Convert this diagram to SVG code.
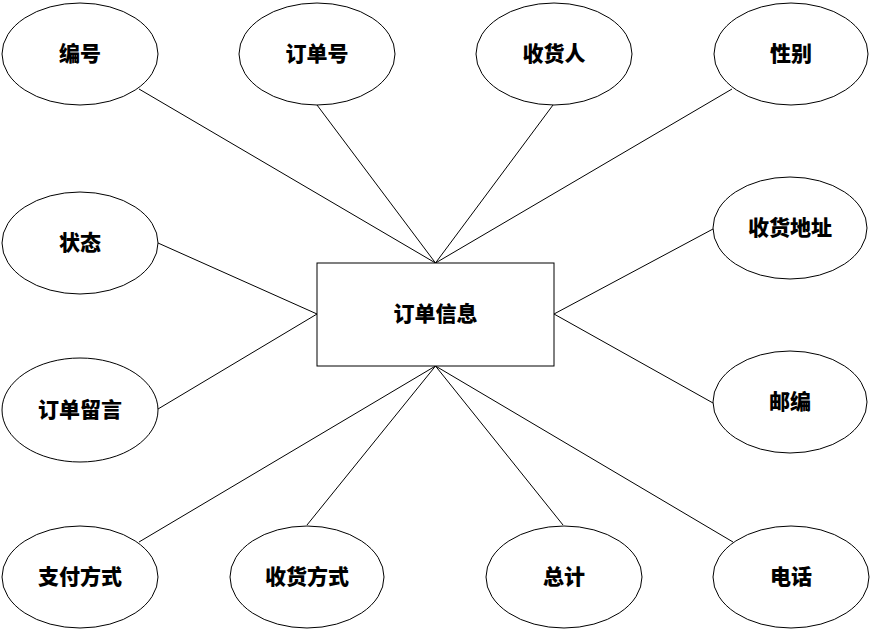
<svg xmlns="http://www.w3.org/2000/svg" width="870" height="630" viewBox="0 0 870 630">
<style>
.n ellipse, .n rect { fill: #fff; stroke: #000; stroke-width: 1; }
.n text { font-family: "Noto Sans CJK SC", "Noto Sans", sans-serif; font-size: 21px; font-weight: 900; fill: #000; text-anchor: middle; dominant-baseline: central; }
#edges line { stroke: #000; stroke-width: 1; }
</style>
<rect width="870" height="630" fill="#fff"/>
<g id="edges">
<line x1="139" y1="89" x2="435.5" y2="263"/>
<line x1="317" y1="105" x2="435.5" y2="263"/>
<line x1="553" y1="105" x2="435.5" y2="263"/>
<line x1="732" y1="89" x2="435.5" y2="263"/>
<line x1="158" y1="243" x2="317" y2="314"/>
<line x1="158" y1="409" x2="317" y2="314"/>
<line x1="713" y1="229" x2="554" y2="314"/>
<line x1="713" y1="403" x2="554" y2="314"/>
<line x1="139" y1="542" x2="435.5" y2="366"/>
<line x1="307" y1="525" x2="435.5" y2="366"/>
<line x1="563" y1="525" x2="435.5" y2="366"/>
<line x1="733" y1="542" x2="435.5" y2="366"/>
</g>
<g id="center" class="n"><rect x="317" y="263" width="237" height="103"/><text x="435.5" y="312">订单信息</text></g>
<g id="bianhao" class="n"><ellipse cx="80" cy="54" rx="78" ry="51"/><text x="80" y="52">编号</text></g>
<g id="dingdanhao" class="n"><ellipse cx="317" cy="54" rx="78" ry="51"/><text x="317" y="52">订单号</text></g>
<g id="shouhuoren" class="n"><ellipse cx="554" cy="54" rx="78" ry="51"/><text x="554" y="52">收货人</text></g>
<g id="xingbie" class="n"><ellipse cx="791" cy="54" rx="77" ry="51"/><text x="791" y="52">性别</text></g>
<g id="zhuangtai" class="n"><ellipse cx="80" cy="243" rx="78" ry="51"/><text x="80" y="241">状态</text></g>
<g id="shouhuodizhi" class="n"><ellipse cx="790" cy="228" rx="77" ry="51"/><text x="790" y="226">收货地址</text></g>
<g id="dingdanliuyan" class="n"><ellipse cx="80" cy="410" rx="78" ry="52"/><text x="80" y="408">订单留言</text></g>
<g id="youbian" class="n"><ellipse cx="790" cy="402" rx="77" ry="51"/><text x="790" y="400">邮编</text></g>
<g id="zhifufangshi" class="n"><ellipse cx="80" cy="577" rx="78" ry="51"/><text x="80" y="575">支付方式</text></g>
<g id="shouhuofangshi" class="n"><ellipse cx="307" cy="577" rx="77" ry="51"/><text x="307" y="575">收货方式</text></g>
<g id="zongji" class="n"><ellipse cx="564" cy="577" rx="78" ry="51"/><text x="564" y="575">总计</text></g>
<g id="dianhua" class="n"><ellipse cx="791" cy="577" rx="78" ry="51"/><text x="791" y="575">电话</text></g>
</svg>
